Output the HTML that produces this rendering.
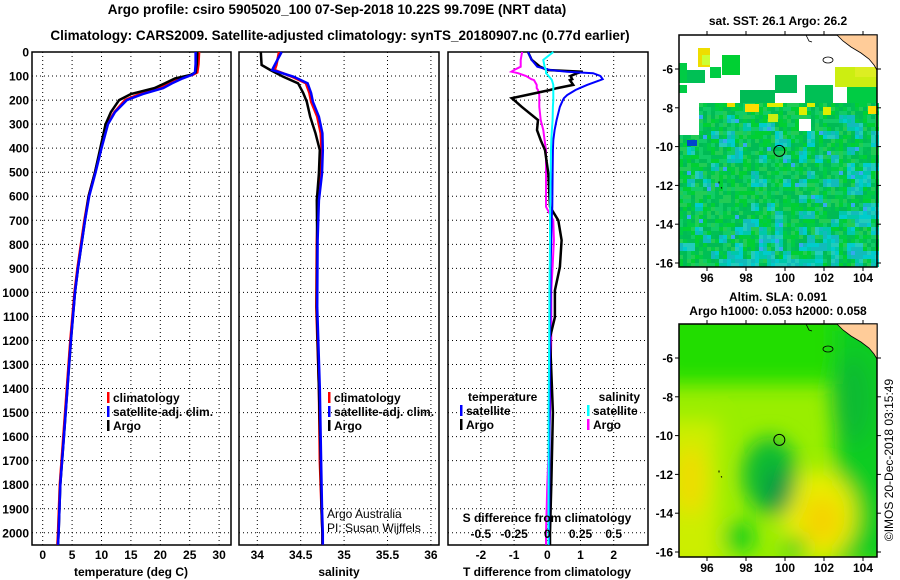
<!DOCTYPE html>
<html><head><meta charset="utf-8"><style>
body{margin:0;background:#fff;}
svg{display:block;font-family:"Liberation Sans",sans-serif;}
.t{font-weight:bold;font-size:12px;fill:#000;}
.ttl{font-weight:bold;font-size:13.5px;fill:#000;}
.grid{stroke:#000;stroke-width:1;stroke-dasharray:1 3;}
</style></head><body>
<svg id="chart" width="900" height="580" viewBox="0 0 900 580">
<text class="ttl" x="337" y="14" text-anchor="middle">Argo profile: csiro 5905020_100 07-Sep-2018 10.22S 99.709E (NRT data)</text>
<text class="ttl" x="340" y="40" text-anchor="middle">Climatology: CARS2009. Satellite-adjusted climatology: synTS_20180907.nc (0.77d earlier)</text>
<g id="p1"></g>
<g id="p2"></g>
<g id="p3"></g>
<g id="m1"></g>
<g id="m2"></g>
<text class="t" x="778" y="25" text-anchor="middle">sat. SST: 26.1 Argo: 26.2</text>
<text class="t" x="778" y="301" text-anchor="middle">Altim. SLA: 0.091</text>
<text class="t" x="778" y="315" text-anchor="middle">Argo h1000: 0.053 h2000: 0.058</text>
<text x="893" y="460" font-size="12" text-anchor="middle" transform="rotate(-90 893 460)">©IMOS 20-Dec-2018 03:15:49</text>
</svg>
<script>
const depthTicks=[0,100,200,300,400,500,600,700,800,900,1000,1100,1200,1300,1400,1500,1600,1700,1800,1900,2000];
const tempTicks=[0,5,10,15,20,25,30];
const salTicks=[34,34.5,35,35.5,36];
const tdTicks=[-2,-1,0,1,2];
const sdTicks=[-0.5,-0.25,0,0.25,0.5];
const sdTickLabels=["-0.5","-0.25","0","0.25","0.5"];
// temperature profiles
const tDepth=[0,50,85,95,110,130,150,175,200,250,300,400,500,600,700,800,900,1000,1200,1400,1600,1800,2000,2050];
const tArgo=[26.3,26.2,26.0,25.2,22.5,20.8,19.0,15.0,13.0,11.6,10.7,9.8,8.9,7.8,7.2,6.6,6.0,5.5,4.8,4.2,3.6,3.0,2.7,2.6];
const tClim=[26.6,26.5,26.3,25.5,23.3,21.5,19.8,16.5,14.0,12.2,11.0,9.9,8.9,7.8,7.1,6.5,5.9,5.4,4.7,4.1,3.5,2.9,2.6,2.5];
const tSat=[26.0,26.0,25.9,25.4,23.8,22.0,20.5,17.0,14.3,12.3,11.1,10.0,9.0,7.9,7.2,6.6,6.0,5.5,4.8,4.2,3.6,3.0,2.7,2.6];
// salinity profiles
const sDepth=[0,54,75,103,130,171,207,269,338,408,505,617,783,1061,1400,1700,1900,2000,2050];
const sArgo=[34.04,34.05,34.15,34.30,34.47,34.53,34.57,34.61,34.67,34.72,34.71,34.685,34.69,34.685,34.71,34.73,34.74,34.75,34.75];
const sClim=[34.25,34.22,34.20,34.40,34.56,34.60,34.62,34.69,34.73,34.74,34.73,34.70,34.685,34.68,34.71,34.72,34.74,34.75,34.75];
const sSat=[34.28,34.20,34.17,34.42,34.58,34.62,34.64,34.71,34.75,34.755,34.745,34.71,34.695,34.69,34.72,34.735,34.745,34.755,34.755];
// difference profiles
const dDepth=[0,33,61,75,82,88,100,113,117,137,150,158,179,192,200,228,283,325,367,408,505,644,700,783,894,992,1103,1187,1500,1800,2000,2050];
const tdArgo=[-0.58,-0.47,-0.22,0.0,1.07,0.9,0.7,0.75,0.68,0.78,0.3,0.08,-0.62,-1.07,-1.0,-0.77,-0.28,-0.31,-0.2,-0.07,0.03,0.08,0.33,0.43,0.38,0.23,0.23,0.08,0.17,0.12,0.08,0.08];
const tdSat=[-0.58,-0.47,-0.3,0.08,0.6,1.38,1.6,1.67,1.6,1.2,0.98,0.85,0.6,0.5,0.47,0.38,0.28,0.22,0.18,0.17,0.16,0.15,0.13,0.12,0.1,0.1,0.09,0.08,0.07,0.06,0.05,0.05];
const sdArgo=[-0.19,-0.2,-0.2,-0.25,-0.27,-0.22,-0.16,-0.12,-0.1,-0.08,-0.08,-0.07,-0.06,-0.06,-0.06,-0.06,-0.05,-0.03,-0.02,-0.01,-0.01,-0.01,0.045,0.05,0.04,0.03,0.03,0.03,0.02,0.0,-0.01,-0.01];
const sdSat=[0.045,-0.03,-0.02,-0.01,-0.01,-0.01,0.01,0.03,0.035,0.045,0.045,0.045,0.045,0.045,0.045,0.042,0.04,0.035,0.03,0.028,0.025,0.022,0.02,0.02,0.018,0.016,0.015,0.014,0.01,0.01,0.008,0.008];

const NS='http://www.w3.org/2000/svg';
function mk(parent,tag,attrs,text){const e=document.createElementNS(NS,tag);for(const k in attrs)e.setAttribute(k,attrs[k]);if(text!==undefined)e.textContent=text;parent.appendChild(e);return e;}
const Y0=52,Y1=545;
const yD=d=>Y0+d*0.2404;
function axisFrame(g,x0,x1,xs,ticks,labels,showDepth){
  for(const d of depthTicks){const y=yD(d);
    const l=mk(g,'line',{x1:x0,x2:x1,y1:y,y2:y,class:'grid'});
    
    
    if(showDepth){const t=mk(g,'text',{x:x0-3,y:y+4.5,class:'t','text-anchor':'end'},String(d));
      
      }
  }
  ticks.forEach((v,i)=>{const x=xs(v);
    const l=mk(g,'line',{x1:x,x2:x,y1:Y0,y2:Y1,class:'grid'});
    
    
    if(labels){const t=mk(g,'text',{x:x,y:559,class:'t','text-anchor':'middle'},labels[i]);
      
      }
  });
  const r=mk(g,'rect',{x:x0,y:Y0,width:x1-x0,height:Y1-Y0,fill:'none',stroke:'#000','stroke-width':1.5});
  
  
}
function line(g,xs,vals,depths,color,name,w){
  const pts=vals.map((v,i)=>xs(v).toFixed(1)+','+yD(depths[i]).toFixed(1)).join(' ');
  const p=mk(g,'polyline',{points:pts,fill:'none',stroke:color,'stroke-width':w||2.5,'stroke-linejoin':'miter'});
  
  
}
function legend(g,x,y,color,label,name){
  const r=mk(g,'rect',{x:x,y:y-10,width:2.5,height:11,fill:color});
  
  
  const t=mk(g,'text',{x:x+6,y:y,class:'t'},label);
  
  
}
// panel 1
const p1=document.getElementById('p1');
const xT=v=>42.7+v*5.88;
axisFrame(p1,32,231,xT,tempTicks,tempTicks.map(String),true);
line(p1,xT,tClim,tDepth,'#f00','climatology-temp-line');
line(p1,xT,tArgo,tDepth,'#000','argo-temp-line');
line(p1,xT,tSat,tDepth,'#00f','satellite-temp-line');
let t=mk(p1,'text',{x:131,y:576,class:'t','text-anchor':'middle'},'temperature (deg C)');


legend(p1,107,402,'#f00','climatology','legend-climatology');
legend(p1,107,416,'#00f','satellite-adj. clim.','legend-satellite-adj');
legend(p1,107,430,'#000','Argo','legend-argo');
// panel 2
const p2=document.getElementById('p2');
const xS=v=>257.3+(v-34)*86.8;
axisFrame(p2,239,439,xS,salTicks,salTicks.map(String),false);
line(p2,xS,sClim,sDepth,'#f00','climatology-salinity-line');
line(p2,xS,sArgo,sDepth,'#000','argo-salinity-line');
line(p2,xS,sSat,sDepth,'#00f','satellite-salinity-line');
t=mk(p2,'text',{x:339,y:576,class:'t','text-anchor':'middle'},'salinity');


legend(p2,328,402,'#f00','climatology','legend-climatology');
legend(p2,328,416,'#00f','satellite-adj. clim.','legend-satellite-adj');
legend(p2,328,430,'#000','Argo','legend-argo');
t=mk(p2,'text',{x:327,y:518,'font-size':12},'Argo Australia');


t=mk(p2,'text',{x:327,y:532,'font-size':12},'PI: Susan Wijffels');


// panel 3
const p3=document.getElementById('p3');
const xTD=v=>547.3+v*33.2;
const xSD=v=>547.3+v*132.8;
axisFrame(p3,448,648,xTD,tdTicks,null,false);
line(p3,xSD,sdArgo,dDepth,'#f0f','argo-salinity-diff-line',2);
line(p3,xTD,tdArgo,dDepth,'#000','argo-temp-diff-line',2.5);
line(p3,xTD,tdSat,dDepth,'#00f','satellite-temp-diff-line',2);
line(p3,xSD,sdSat,dDepth,'#0ff','satellite-salinity-diff-line',2);
tdTicks.forEach(v=>{const e=mk(p3,'text',{x:xTD(v),y:559,class:'t','text-anchor':'middle'},String(v));
  
  });
sdTicks.forEach((v,i)=>{const e=mk(p3,'text',{x:xSD(v),y:538,class:'t','text-anchor':'middle'},sdTickLabels[i]);
  
  });
t=mk(p3,'text',{x:547,y:522,class:'t','text-anchor':'middle'},'S difference from climatology');


t=mk(p3,'text',{x:547,y:576,class:'t','text-anchor':'middle'},'T difference from climatology');


t=mk(p3,'text',{x:468,y:401,class:'t'},'temperature');


t=mk(p3,'text',{x:640,y:401,class:'t','text-anchor':'end'},'salinity');


legend(p3,460,415,'#00f','satellite','legend-temp-satellite');
legend(p3,460,429,'#000','Argo','legend-temp-argo');
legend(p3,587,415,'#0ff','satellite','legend-sal-satellite');
legend(p3,587,429,'#f0f','Argo','legend-sal-argo');

// maps
const MX0=679,MX1=877;
const lonX=l=>707+(l-96)*19.5;
const lonTicks=[96,98,100,102,104];
const latTicks=[-6,-8,-10,-12,-14,-16];
function hsh(i,j,k){let n=(i*374761393+j*668265263+k*1442695041)|0;n=(n^(n>>>13))*1274126177|0;return ((n^(n>>>16))>>>0)/4294967296;}
function mapFrame(g,top,bottom,lat6y,name){
  const latY=l=>lat6y+(-6-l)*19.4;
  const r=mk(g,'rect',{x:MX0,y:top,width:MX1-MX0,height:bottom-top,fill:'none',stroke:'#000','stroke-width':1.5});
  
  
  for(const l of latTicks){const y=latY(l);
    mk(g,'line',{x1:MX0-4,x2:MX0,y1:y,y2:y,stroke:'#000'});
    mk(g,'line',{x1:MX1,x2:MX1+4,y1:y,y2:y,stroke:'#000'});
    const e=mk(g,'text',{x:MX0-6,y:y+4.5,class:'t','text-anchor':'end'},String(l));
    
    }
  for(const l of lonTicks){const x=lonX(l);
    mk(g,'line',{x1:x,x2:x,y1:top-4,y2:top,stroke:'#000'});
    mk(g,'line',{x1:x,x2:x,y1:bottom,y2:bottom+4,stroke:'#000'});
    const e=mk(g,'text',{x:x,y:bottom+15,class:'t','text-anchor':'middle'},String(l));
    
    }
  const land=mk(g,'polygon',{points:`${MX0+158},${top} ${MX1},${top} ${MX1},${top+35} ${MX1-3},${top+30} ${MX1-8},${top+24} ${MX1-16},${top+18} ${MX1-26},${top+12} ${MX1-34},${top+6}`,fill:'#ffcc99',stroke:'#000','stroke-width':0.8});
  
  
  mk(g,'ellipse',{cx:MX0+149,cy:top+25,rx:5,ry:3,fill:'none',stroke:'#000','stroke-width':0.8});
  mk(g,'path',{d:`M${MX0+127} ${top} l3 6 l3 1`,fill:'none',stroke:'#000','stroke-width':0.8});
  mk(g,'path',{d:`M${MX0+40} ${latY(-11.8)} l0 2 M${MX0+42} ${latY(-12.1)} l1 1`,fill:'none',stroke:'#000','stroke-width':1});
  const c=mk(g,'circle',{cx:lonX(99.709),cy:latY(-10.22),r:5.5,fill:'none',stroke:'#000','stroke-width':1});
  
  
}
// SST map
(function(){
  const g=document.getElementById('m1');const top=35,bottom=267,cell=4;
  const cols=Math.ceil((MX1-MX0)/cell),rows=Math.ceil((bottom-top)/cell);
  const greens=['#00cc44','#00c055','#11cc66','#00bb55','#22cc55','#00d033'];
  const cyans=['#00cccc','#11bbbb','#22ccbb','#00c8aa'];
  let s='';
  // sparse blocks in the cloudy top region
  [[679,63,8,20,'#00cc44'],[687,70,18,13,'#00c055'],[698,48,12,19,'#eedd00'],[702,55,8,10,'#ccff33'],[710,67,11,11,'#00cc44'],[722,55,18,20,'#00d033'],[775,75,22,18,'#00bb55'],[835,67,42,20,'#ccee11'],[855,67,22,10,'#ddee22'],[740,90,35,13,'#00bb55'],[805,85,28,18,'#00c055'],[847,87,30,16,'#00cc44'],[679,85,8,8,'#00cc44']].forEach(a=>{s+=`<rect x="${a[0]}" y="${a[1]}" width="${a[2]}" height="${a[3]}" fill="${a[4]}"/>`;});
  for(let j=0;j<rows;j++)for(let i=0;i<cols;i++){
    const x=MX0+i*cell,y=top+j*cell;
    const cx=i/cols,cy=j/rows;
    if(y<103)continue;
    if(y<133&&x<698)continue;
    if(y>=119&&y<128&&x>=798&&x<808)continue;
    let col;
    const h=hsh(i>>1,j>>1,1),h2=hsh(i,j,2);
    if(y<115){
      const blk=hsh(i>>1,j>>1,4);
      if(blk<0.12)col='#ddee00';else if(blk<0.18)col='#eedd00';else col=greens[Math.floor(h2*6)];
    } else {
      const cyp=0.15+0.35*cx*cy+(y>240?0.2:0);
      col=h<cyp?cyans[Math.floor(h2*4)]:greens[Math.floor(h2*6)];
      if(h2>0.985)col='#33aaee';
    }
    s+=`<rect x="${x}" y="${y}" width="${cell}" height="${cell}" fill="${col}"/>`;
  }
  const f=mk(g,'g',{});f.innerHTML=s;
  
  
  [[745,104,14,8,'#ffdd00'],[768,114,10,8,'#ccee11'],[868,106,9,8,'#ffdd00'],[687,140,10,6,'#0044cc']].forEach(a=>mk(g,'rect',{x:a[0],y:a[1],width:a[2],height:a[3],fill:a[4]}));
  mapFrame(g,top,bottom,69,'sst-map');
})();
// SLA map
(function(){
  const g=document.getElementById('m2');const top=324,bottom=557;
  const defs=mk(g,'defs',{});
  defs.innerHTML=`<clipPath id="c2"><rect x="${MX0}" y="${top}" width="${MX1-MX0}" height="${bottom-top}"/></clipPath>
  <filter id="bl"><feGaussianBlur stdDeviation="10"/></filter>`;
  const f=mk(g,'g',{'clip-path':'url(#c2)'});
  
  
  f.innerHTML=`<rect x="${MX0}" y="${top}" width="198" height="233" fill="#99ee00"/>
  <g filter="url(#bl)">
  <rect x="${MX0-20}" y="${top-20}" width="240" height="80" fill="#22dd00"/>
  <rect x="835" y="${top}" width="60" height="240" fill="#11cc22"/>
  <rect x="${MX0-20}" y="420" width="60" height="150" fill="#ccee00"/>
  <ellipse cx="690" cy="480" rx="16" ry="35" fill="#eedd00"/>
  <ellipse cx="818" cy="515" rx="38" ry="45" fill="#e8ee00"/>
  <ellipse cx="822" cy="520" rx="20" ry="24" fill="#f4d400"/>
  <ellipse cx="770" cy="475" rx="28" ry="38" fill="#11bb33"/>
  <ellipse cx="778" cy="492" rx="14" ry="24" fill="#119944"/>
  <ellipse cx="740" cy="537" rx="15" ry="15" fill="#11cc22"/>
  <ellipse cx="795" cy="547" rx="12" ry="10" fill="#22cc22"/>
  <ellipse cx="852" cy="400" rx="20" ry="45" fill="#11bb33"/>
  </g>`;
  mapFrame(g,top,bottom,358,'sla-map');
})();
</script>
</body></html>
